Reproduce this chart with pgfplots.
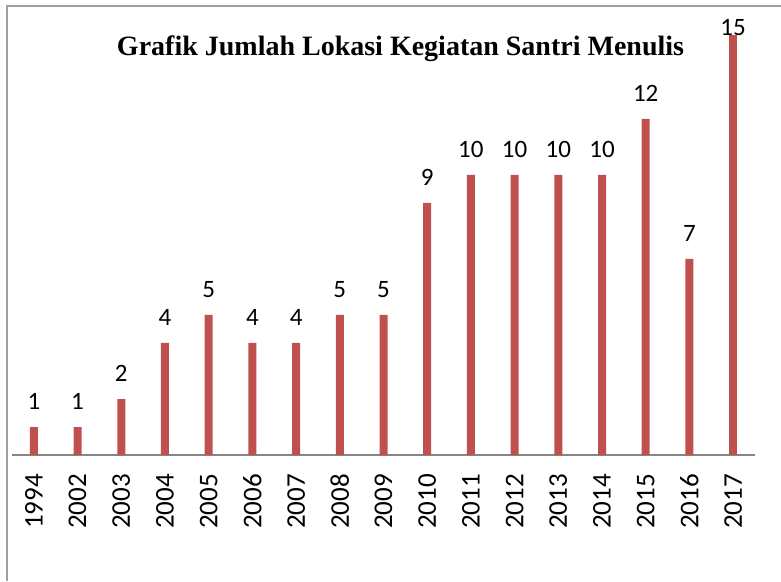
\documentclass[border=0pt]{standalone}
\usepackage{pgfplots}
\pgfplotsset{compat=1.18}
\usepackage{fontspec}
\setmainfont{Carlito}
\newfontfamily\titlefont{Liberation Serif}
\definecolor{barred}{HTML}{C0504D}
\definecolor{axgray}{HTML}{868686}
\definecolor{framegray}{HTML}{A0A0A0}
\begin{document}
\begin{tikzpicture}[x=1pt,y=1pt]
\path[use as bounding box] (0,0) rectangle (781,581);
\draw[framegray, line width=1.5pt] (7,0) -- (7,575) -- (781,575);
\begin{axis}[
  at={(12pt,126pt)}, anchor=south west,
  scale only axis, width=743pt, height=434pt,
  xmin=-0.5, xmax=16.5, ymin=0, ymax=15.5,
  axis x line=bottom, axis y line=none,
  x axis line style={-, axgray, line width=1.5pt},
  xtick={0,...,16},
  xticklabels={1994,2002,2003,2004,2005,2006,2007,2008,2009,2010,2011,2012,2013,2014,2015,2016,2017},
  major tick length=0pt,
  xticklabel style={yshift=-19pt, rotate=90, anchor=east, inner sep=0pt, font=\fontsize{27}{27}\selectfont},
  ytick=\empty,
  /pgf/number format/assume math mode=true,
  clip=false,
]
\addplot[ybar, bar width=8pt, bar shift=0pt, fill=barred, draw=none,
  nodes near coords,
  every node near coord/.append style={inner sep=0pt, anchor=south, yshift=17pt, font=\fontsize{25}{25}\selectfont, black}]
  coordinates {(0,1) (1,1) (2,2) (3,4) (4,5) (5,4) (6,4) (7,5) (8,5) (9,9) (10,10) (11,10) (12,10) (13,10) (14,12) (15,7)};
\addplot[ybar, bar width=8pt, bar shift=0pt, fill=barred, draw=none,
  nodes near coords,
  every node near coord/.append style={inner sep=0pt, anchor=south, yshift=-1pt, font=\fontsize{25}{25}\selectfont, black}]
  coordinates {(16,15)};
\end{axis}
\node[anchor=base, inner sep=0pt, font=\titlefont\bfseries\fontsize{28}{28}\selectfont] at (400.5,525) {Grafik Jumlah Lokasi Kegiatan Santri Menulis};
\end{tikzpicture}
\end{document}
